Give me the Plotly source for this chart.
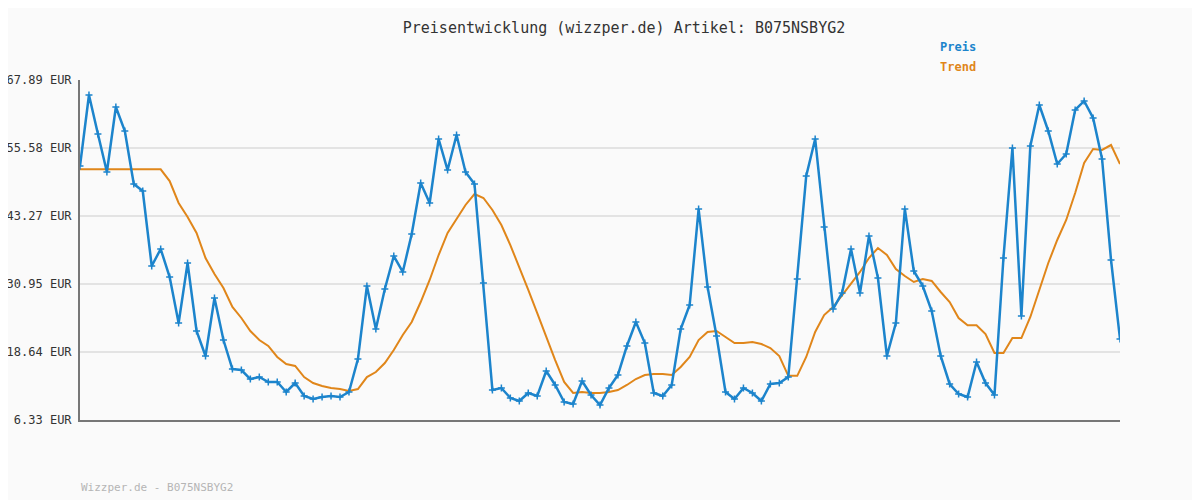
import plotly.graph_objects as go

preis = [52.32,65.17,58.11,51.23,63.00,58.66,49.06,47.79,34.21,37.29,32.22,23.89,34.76,22.44,17.92,28.42,20.81,15.56,15.38,13.75,
14.11,13.21,13.21,11.40,13.03,10.68,10.13,10.49,10.68,10.49,11.40,17.37,30.59,22.81,30.05,36.02,33.13,40.01,49.24,45.62,
57.21,51.59,57.93,51.23,49.06,31.13,11.76,12.12,10.31,9.77,11.22,10.68,15.20,12.67,9.59,9.23,13.39,10.86,9.05,12.12,
14.48,19.73,24.07,20.27,11.22,10.68,12.67,22.81,27.15,44.53,30.41,21.54,11.40,10.13,12.12,11.22,9.77,12.85,13.03,14.11,
31.86,50.51,57.21,41.27,26.43,29.33,37.29,29.33,39.65,32.04,17.92,23.89,44.53,33.31,30.59,26.06,17.92,12.85,11.04,10.49,
16.83,13.03,10.86,35.66,55.58,25.16,55.94,63.36,58.66,52.68,54.49,62.46,64.09,61.01,53.59,35.30,21.00]
trend = [51.72]*10 + [49.60,45.62,43.08,40.19,35.66,32.76,30.23,26.79,24.80,22.44,20.81,19.73,17.74,16.47,16.11,14.11,13.03,12.49,12.12,11.94,
11.58,11.94,14.11,15.02,16.65,19.00,21.72,24.07,27.69,31.68,36.20,40.19,42.72,45.26,47.25,46.53,44.35,41.64,38.01,34.03,
29.87,25.70,21.36,17.19,13.21,11.22,11.40,11.22,11.22,11.40,11.76,12.67,13.75,14.48,14.66,14.66,14.50,15.93,17.74,20.81,
22.26,22.44,21.36,20.27,20.27,20.45,20.09,19.37,17.92,14.32,14.32,17.74,22.26,25.34,26.79,28.96,31.13,33.13,35.66,37.47,
36.20,33.67,32.40,31.32,31.86,31.50,29.51,27.69,24.80,23.47,23.47,21.90,18.46,18.46,21.17,21.17,24.98,29.87,34.76,38.92,
42.54,47.43,52.86,55.40,55.22,56.12,52.68]
ticks = [6.33,18.64,30.95,43.27,55.58,67.89]
tick_labels = [f"{t:.2f} EUR" for t in ticks]
idx = list(range(len(preis)))

mono = "DejaVu Sans Mono"
blue = "#1c84cc"
orange = "#e0861a"

fig = go.Figure()
fig.add_trace(go.Scatter(x=idx, y=trend, mode="lines", line=dict(color=orange, width=2), name="Trend"))
fig.add_trace(go.Scatter(x=idx, y=preis, mode="lines+markers", line=dict(color=blue, width=2.5),
                         marker=dict(symbol="cross-thin", size=5, line=dict(color=blue, width=1.5)), name="Preis"))
fig.update_layout(
    width=1192, height=492, showlegend=False,
    paper_bgcolor="#fafafa", plot_bgcolor="#fafafa",
    margin=dict(l=72, r=80, t=72, b=80, autoexpand=False),
    title=dict(text="Preisentwicklung (wizzper.de) Artikel: B075NSBYG2", x=(624-8)/1192, y=1-(28-8)/492,
               xanchor="center", yanchor="middle",
               font=dict(family=mono, size=15, color="#333")),
    xaxis=dict(range=[0, 116], showgrid=False, showticklabels=False, zeroline=False, automargin=False,
               showline=True, linecolor="#777", linewidth=2, ticks=""),
    yaxis=dict(range=[6.33, 67.89], tickvals=ticks, ticktext=tick_labels, showgrid=True, gridcolor="#e3e3e3", gridwidth=2,
               zeroline=False, showline=True, linecolor="#777", linewidth=2, automargin=False, ticklabelstandoff=4,
               tickfont=dict(family=mono, size=12, color="#333")),
)
W, H = 1040, 340
def px(xp, yp):
    return (xp - 80) / W, (420 - yp) / H
ann = []
for text, xp, yp, col, sz in [("<b>Preis</b>", 938, 47, blue, 12), ("<b>Trend</b>", 938, 67, orange, 12),
                              ("Wizzper.de - B075NSBYG2", 79, 487, "#b5b5b5", 11)]:
    xx, yy = px(xp, yp)
    ann.append(dict(text=text, x=xx, y=yy, xref="paper", yref="paper", xanchor="left", yanchor="middle",
                    showarrow=False, font=dict(family=mono, size=sz, color=col)))
fig.update_layout(annotations=ann)
fig.write_html("out.html")
